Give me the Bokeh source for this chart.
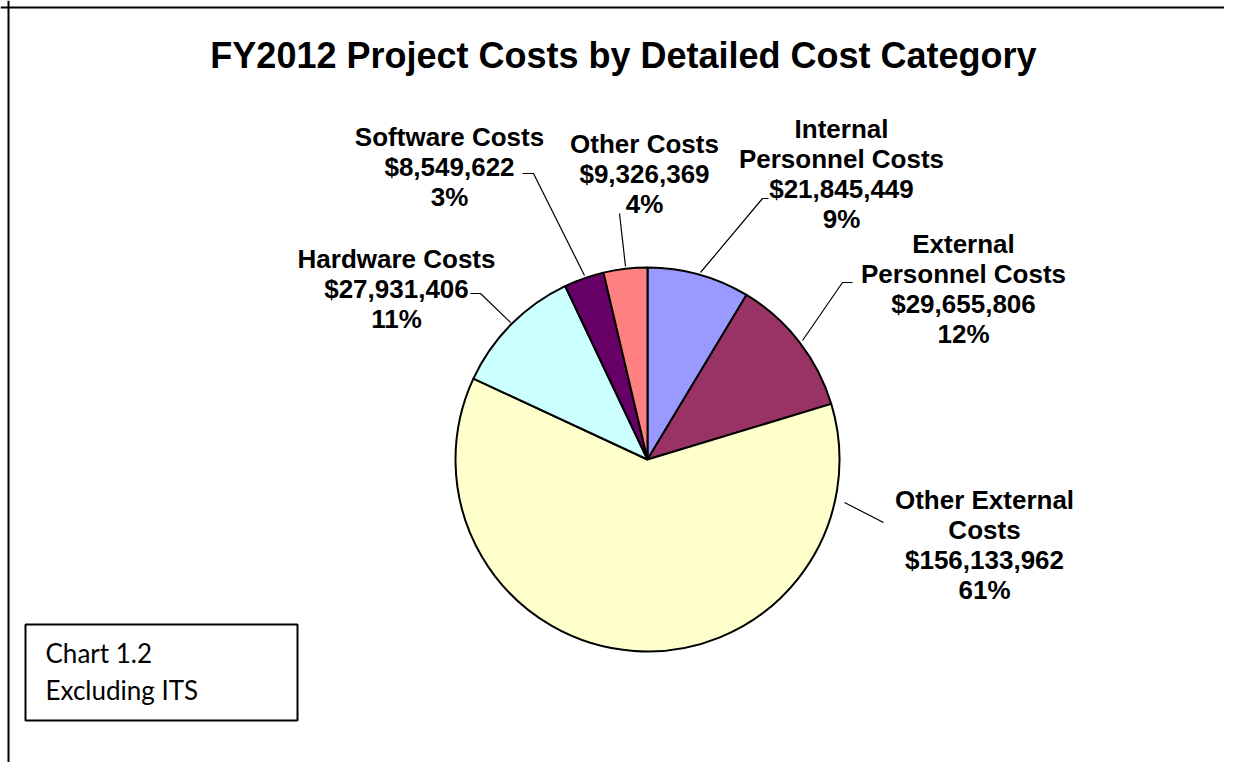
import math
from bokeh.plotting import figure
from bokeh.models import Range1d, Span, ColumnDataSource
from bokeh.embed import file_html
from bokeh.resources import INLINE
from bokeh.core.properties import value

# ---- data ----
categories = ["Internal Personnel Costs", "External Personnel Costs", "Other External Costs",
              "Hardware Costs", "Software Costs", "Other Costs"]
label_names = ["Internal\nPersonnel Costs", "External\nPersonnel Costs", "Other External\nCosts",
               "Hardware Costs", "Software Costs", "Other Costs"]
costs = [21845449, 29655806, 156133962, 27931406, 8549622, 9326369]
percent_labels = ["9%", "12%", "61%", "11%", "3%", "4%"]
colors = ["#9999FF", "#993366", "#FFFFCC", "#CCFFFF", "#660066", "#FF8080"]

title_text = "FY2012 Project Costs by Detailed Cost Category"
note_lines = ["Chart 1.2", "Excluding ITS"]

# ---- layout helpers (screen pixel -> data) ----
W, H = 1224, 762
def Y(sy):
    return H - sy

p = figure(width=W, height=H, output_backend="svg", toolbar_location=None,
           x_range=Range1d(0, W), y_range=Range1d(0, H),
           min_border=0, outline_line_color=None)
p.axis.visible = False
p.grid.visible = False
p.background_fill_color = "white"
p.border_fill_color = "white"

# frame lines
p.add_layout(Span(location=8, dimension="height", line_color="black", line_width=2))
p.add_layout(Span(location=Y(7), dimension="width", line_color="black", line_width=2))

# ---- pie ----
total = sum(costs)
starts, ends, cum = [], [], 0.0
for v in costs:
    starts.append(math.pi / 2 - 2 * math.pi * cum / total)
    cum += v
    ends.append(math.pi / 2 - 2 * math.pi * cum / total)

src = ColumnDataSource(dict(cat=categories, value=costs, start=starts, end=ends, color=colors))
p.wedge(x=647, y=Y(459), radius=192, start_angle="start", end_angle="end", direction="clock",
        fill_color="color", line_color="black", line_width=2, source=src)

# ---- leader lines ----
leaders = [
    [(700, 272), (762, 198), (768, 198)],
    [(802, 340), (842, 282), (852, 282)],
    [(844, 502), (883, 522)],
    [(510, 322), (480, 293), (470, 293)],
    [(584, 275), (533, 173), (522, 173)],
    [(625, 266), (619, 213)],
]
p.multi_line(xs=[[pt[0] for pt in L] for L in leaders],
             ys=[[Y(pt[1]) for pt in L] for L in leaders],
             line_color="black", line_width=1.2)

# ---- data labels ----
label_pos = [(841, 113), (963, 228), (984, 484), (396, 243), (449, 121), (644, 128)]
texts = [f"{n}\n${v:,}\n{pc}" for n, v, pc in zip(label_names, costs, percent_labels)]
p.text(x=[lp[0] for lp in label_pos], y=[Y(lp[1]) for lp in label_pos], text=texts,
       text_font=value("Liberation Sans"), text_font_style="bold", text_font_size="26px",
       text_align="center", text_baseline="top", text_line_height=1.0, text_color="black")

# ---- title ----
p.text(x=[623], y=[Y(55)], text=[title_text], text_font=value("Liberation Sans"),
       text_font_style="bold", text_font_size="36px", text_align="center",
       text_baseline="middle", text_color="black")

# ---- note box ----
p.quad(left=[25], right=[297], top=[Y(624)], bottom=[Y(720)],
       fill_color="white", line_color="black", line_width=2)
p.text(x=[45], y=[Y(636)], text=["\n".join(note_lines)], text_font=value("Lato"),
       text_font_size="26px", text_align="left", text_baseline="top",
       text_line_height=1.18, text_color="black")

open("out.html", "w").write(file_html(p, INLINE))
